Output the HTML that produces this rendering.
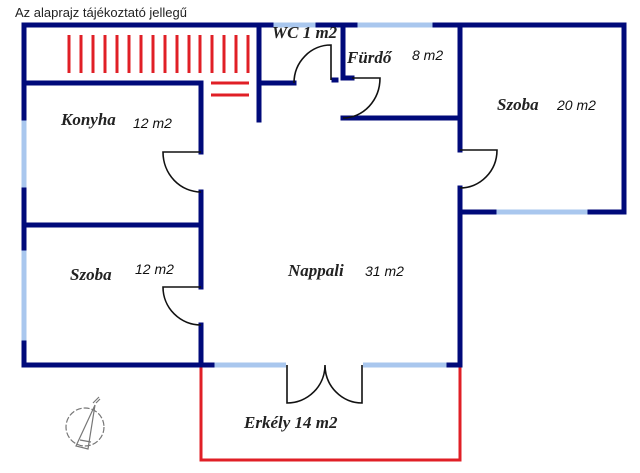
<!DOCTYPE html>
<html><head><meta charset="utf-8"><style>
html,body{margin:0;padding:0;background:#fff;width:640px;height:473px;overflow:hidden}
svg{display:block}
.r{font-family:"Liberation Serif",serif;font-style:italic;font-weight:bold;font-size:17px;fill:#222}
.s{font-family:"Liberation Sans",sans-serif;font-style:italic;font-size:14px;fill:#111}
</style></head><body>
<svg width="640" height="473" viewBox="0 0 640 473" xmlns="http://www.w3.org/2000/svg">
<text x="15" y="17" font-family="Liberation Sans, sans-serif" font-size="13" fill="#222">Az alaprajz tájékoztató jellegű</text>
<g stroke="#e01f26" stroke-width="3">
<line x1="69" y1="35" x2="69" y2="73"/><line x1="81" y1="35" x2="81" y2="73"/><line x1="93" y1="35" x2="93" y2="73"/><line x1="105" y1="35" x2="105" y2="73"/><line x1="117" y1="35" x2="117" y2="73"/><line x1="129" y1="35" x2="129" y2="73"/><line x1="141" y1="35" x2="141" y2="73"/><line x1="153" y1="35" x2="153" y2="73"/><line x1="165" y1="35" x2="165" y2="73"/><line x1="177" y1="35" x2="177" y2="73"/><line x1="189" y1="35" x2="189" y2="73"/><line x1="200" y1="35" x2="200" y2="73"/><line x1="212" y1="35" x2="212" y2="73"/><line x1="224" y1="35" x2="224" y2="73"/><line x1="236" y1="35" x2="236" y2="73"/><line x1="248" y1="35" x2="248" y2="73"/>
<line x1="211" y1="83" x2="249" y2="83"/><line x1="211" y1="95" x2="249" y2="95"/>
</g>
<polyline points="201,365 201,460 460,460 460,365" fill="none" stroke="#e01f26" stroke-width="3"/>
<g stroke="#a9c7ee" stroke-width="5">
<line x1="271" y1="25" x2="318" y2="25"/><line x1="355" y1="25" x2="435" y2="25"/>
<line x1="494" y1="212" x2="590" y2="212"/>
<line x1="24" y1="118" x2="24" y2="190"/><line x1="24" y1="248" x2="24" y2="343"/>
<line x1="212" y1="365" x2="286" y2="365"/><line x1="363" y1="365" x2="449" y2="365"/>
</g>
<g stroke="#000a7a" stroke-width="5" fill="none" stroke-linecap="square">
<line x1="24" y1="25" x2="271" y2="25"/><line x1="318" y1="25" x2="355" y2="25"/><line x1="435" y1="25" x2="624" y2="25"/>
<line x1="624" y1="25" x2="624" y2="212"/><line x1="460" y1="212" x2="494" y2="212"/><line x1="590" y1="212" x2="624" y2="212"/>
<line x1="24" y1="25" x2="24" y2="118"/><line x1="24" y1="190" x2="24" y2="248"/><line x1="24" y1="343" x2="24" y2="365"/>
<line x1="24" y1="83" x2="201" y2="83"/><line x1="201" y1="83" x2="201" y2="152"/><line x1="201" y1="192" x2="201" y2="287"/><line x1="201" y1="325" x2="201" y2="365"/>
<line x1="24" y1="225" x2="201" y2="225"/>
<line x1="259" y1="25" x2="259" y2="120"/><line x1="259" y1="83" x2="294" y2="83"/>
<line x1="334" y1="80" x2="336" y2="80"/>
<line x1="343" y1="25" x2="343" y2="78"/><line x1="343" y1="78" x2="352" y2="78"/>
<line x1="343" y1="118" x2="460" y2="118"/>
<line x1="460" y1="25" x2="460" y2="150"/><line x1="460" y1="188" x2="460" y2="365"/>
<line x1="24" y1="365" x2="212" y2="365"/><line x1="449" y1="365" x2="460" y2="365"/>
</g>
<g stroke="#111" stroke-width="1.6" fill="none">
<path d="M201,152 L163,152 A38,40 0 0 0 201,192"/>
<path d="M201,287 L163,287 A38,38 0 0 0 201,325"/>
<path d="M460,150 L497,150 A37,38 0 0 1 460,188"/>
<path d="M331,80 L331,45 A37,38 0 0 0 294,83"/>
<path d="M352,78 L380,78 A37,40 0 0 1 343,118"/>
<path d="M287,365 L287,403 A38,38 0 0 0 325,365 A37,38 0 0 0 362,403 L362,365"/>
</g>
<g stroke="#777" stroke-width="1.2" fill="none">
<circle cx="85" cy="427" r="19" stroke-dasharray="6 2"/>
<path d="M76,446 L95,405 L88,449 Z M80,440 L91,442 M93,403 L99,397 M96,403 L100,399"/>
</g>
<text class="r" x="272" y="38">WC 1 m2</text>
<text class="r" x="347" y="63">Fürdő</text><text class="s" x="412" y="60">8 m2</text>
<text class="r" x="497" y="110">Szoba</text><text class="s" x="557" y="110">20 m2</text>
<text class="r" x="61" y="125">Konyha</text><text class="s" x="133" y="128">12 m2</text>
<text class="r" x="70" y="280">Szoba</text><text class="s" x="135" y="274">12 m2</text>
<text class="r" x="288" y="276">Nappali</text><text class="s" x="365" y="276">31 m2</text>
<text class="r" x="244" y="428">Erkély 14 m2</text>
</svg>
</body></html>
